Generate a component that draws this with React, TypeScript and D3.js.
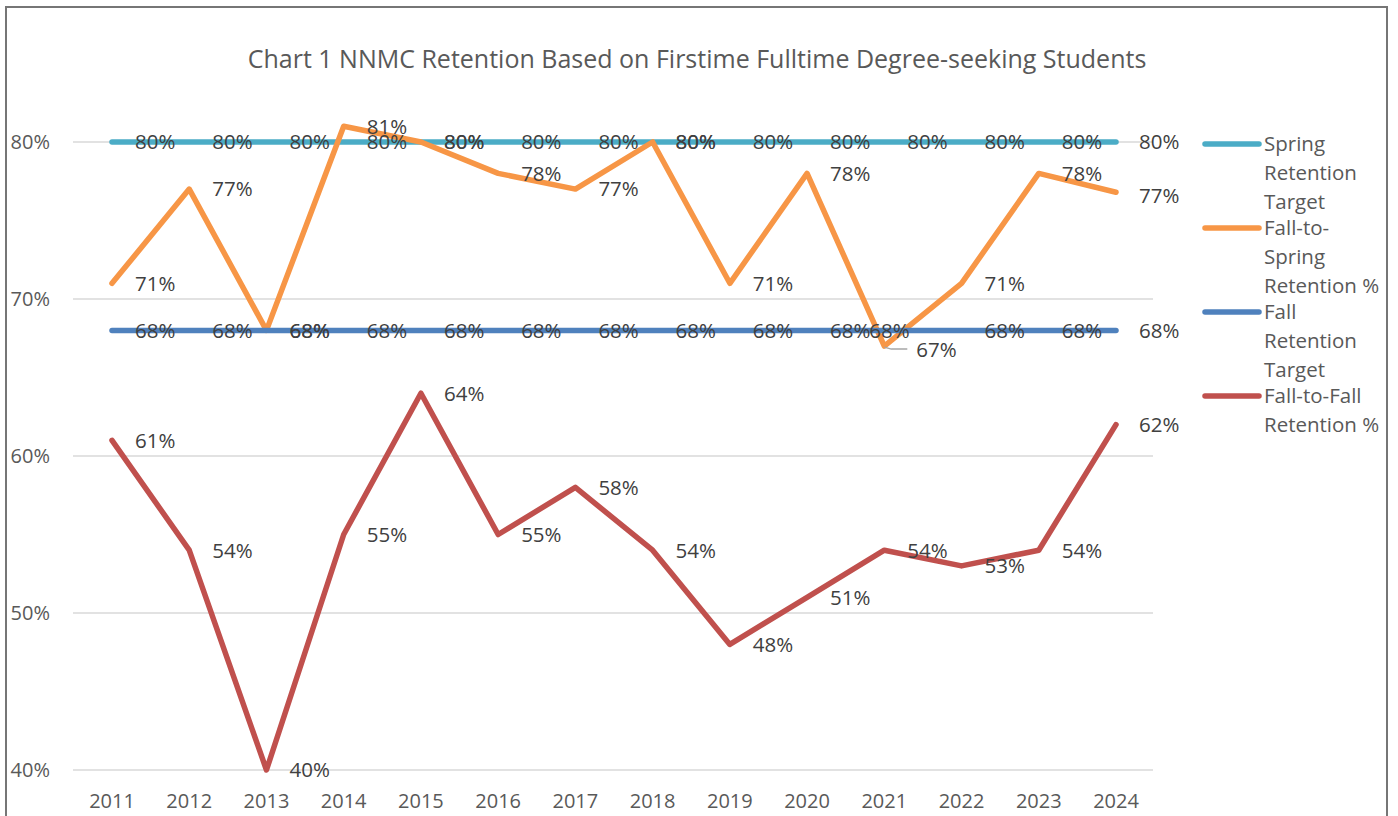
import React from "react";
import * as d3 from "d3";

const years = ["2011", "2012", "2013", "2014", "2015", "2016", "2017", "2018", "2019", "2020", "2021", "2022", "2023", "2024"];
const springTarget = [80, 80, 80, 80, 80, 80, 80, 80, 80, 80, 80, 80, 80, 80];
const fallToSpring = [71, 77, 68, 81, 80, 78, 77, 80, 71, 78, 67, 71, 78, 76.8];
const fallTarget = [68, 68, 68, 68, 68, 68, 68, 68, 68, 68, 68, 68, 68, 68];
const fallToFall = [61, 54, 40, 55, 64, 55, 58, 54, 48, 51, 54, 53, 54, 62];
const yTicks = [40, 50, 60, 70, 80];
const legendLines = [
  ["Spring", "Retention", "Target"],
  ["Fall-to-", "Spring", "Retention %"],
  ["Fall", "Retention", "Target"],
  ["Fall-to-Fall", "Retention %"],
];

const series = [
  { name: "Spring Retention Target", color: "#4BACC6", values: springTarget },
  { name: "Fall-to-Spring Retention %", color: "#F79646", values: fallToSpring },
  { name: "Fall Retention Target", color: "#4F81BD", values: fallTarget },
  { name: "Fall-to-Fall Retention %", color: "#C0504D", values: fallToFall },
];

const FONT = "'Open Sans', sans-serif";

const App = () => {
  const width = 1398;
  const height = 816;
  const x = d3.scalePoint<string>().domain(years).range([112, 1116]);
  const y = d3.scaleLinear().domain([40, 80]).range([770, 142]);

  const line = d3
    .line<number>()
    .x((_, i) => x(years[i]) as number)
    .y((d) => y(d));

  // manual label nudges (series index + year)
  const labelShift: Record<string, [number, number]> = {
    "1-2021": [9, 4],
    "2-2021": [-38, 0],
    "1-2024": [0, 3],
  };

  return (
    <div style={{ position: "absolute", left: 0, top: 0 }}>
      <svg width={width} height={height} style={{ display: "block", background: "#fff" }}>
        <rect x={6} y={7} width={1381} height={830} fill="#fff" stroke="#767676" strokeWidth={2} />
        <text x={697} y={68} textAnchor="middle" fontFamily={FONT} fontSize={25} fill="#595959">
          Chart 1 NNMC Retention Based on Firstime Fulltime Degree-seeking Students
        </text>

        {yTicks.map((t) => (
          <g key={t}>
            <line x1={73} x2={1153} y1={y(t)} y2={y(t)} stroke="#d9d9d9" strokeWidth={1.5} />
            <text x={50} y={y(t)} dy="0.36em" textAnchor="end" fontFamily={FONT} fontSize={20} fill="#595959">
              {t}%
            </text>
          </g>
        ))}

        {years.map((yr) => (
          <text key={yr} x={x(yr)} y={808} textAnchor="middle" fontFamily={FONT} fontSize={20} fill="#595959">
            {yr}
          </text>
        ))}

        {series.map((s) => (
          <path
            key={s.name}
            d={line(s.values) || ""}
            fill="none"
            stroke={s.color}
            strokeWidth={5.5}
            strokeLinecap="round"
            strokeLinejoin="round"
          />
        ))}

        {/* leader line for the moved 2021 label */}
        <path
          d={`M${x("2021")},${y(67) + 1} L${(x("2021") as number) + 7},${y(67) + 3} L${(x("2021") as number) + 23},${y(67) + 3}`}
          fill="none"
          stroke="#a6a6a6"
          strokeWidth={1.5}
        />

        {series.map((s, si) =>
          s.values.map((v, i) => {
            const sh = labelShift[`${si}-${years[i]}`] || [0, 0];
            return (
              <text
                key={`${si}-${i}`}
                x={(x(years[i]) as number) + 23 + sh[0]}
                y={y(v) + sh[1]}
                dy="0.36em"
                fontFamily={FONT}
                fontSize={20.5}
                fill="#404040"
              >
                {Math.round(v)}%
              </text>
            );
          })
        )}

        {series.map((s, si) => {
          const ly = 144 + si * 84;
          return (
            <g key={s.name}>
              <line x1={1205} x2={1259} y1={ly} y2={ly} stroke={s.color} strokeWidth={5.5} strokeLinecap="round" />
              {legendLines[si].map((t, k) => (
                <text key={k} x={1264} y={ly + k * 28.7} dy="0.36em" fontFamily={FONT} fontSize={20.5} fill="#595959">
                  {t}
                </text>
              ))}
            </g>
          );
        })}
      </svg>
    </div>
  );
};

export default App;
